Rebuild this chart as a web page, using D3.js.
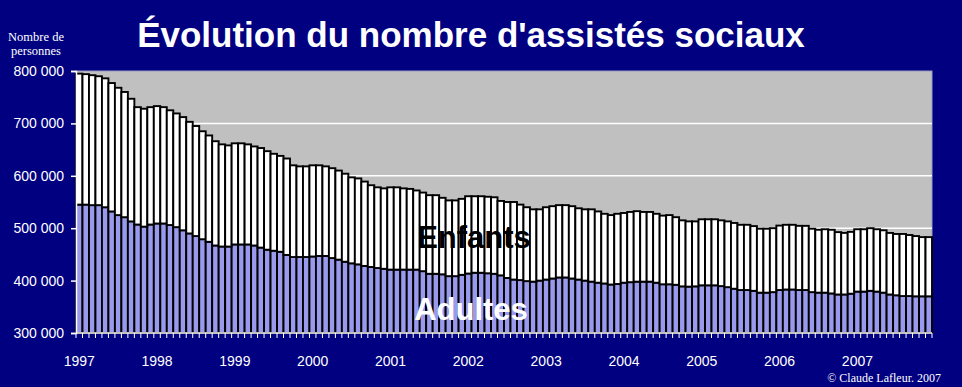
<!DOCTYPE html>
<html>
<head>
<meta charset="utf-8">
<script src="https://cdn.jsdelivr.net/npm/d3@7"></script>
<style>
  html, body { margin: 0; padding: 0; background: #000080; }
  #chart { width: 962px; height: 387px; }
</style>
</head>
<body>
<div id="chart"></div>
<script>
// years shown on the x axis, one bar per month
const years = ['1997', '1998', '1999', '2000', '2001', '2002', '2003', '2004', '2005', '2006', '2007'];
const months = years.flatMap(y => d3.range(1, 13).map(m => `${y}-${String(m).padStart(2, '0')}`));

// adults, in thousands of persons
const adultes = [
  545, 545, 544, 544, 540, 532, 525, 521, 513, 507, 503, 507,
  509, 509, 506, 502, 496, 490, 485, 479, 474, 467, 465, 465,
  469, 469, 469, 467, 463, 459, 457, 455, 449, 445, 445, 445,
  446, 447, 447, 443, 440, 436, 433, 431, 428, 426, 424, 422.5,
  421, 421, 421, 421, 421, 418, 413, 413, 412, 408.5, 408.5, 411,
  413.5, 415, 415, 414, 413, 410, 405, 402, 401, 399, 398, 400,
  402, 404, 406, 406, 404, 402, 400, 398, 396, 394.5, 392.5, 393.5,
  396, 397, 398, 398, 398, 396, 393, 393, 392, 389, 388.5, 389,
  391, 391, 391, 389.5, 387.5, 384.5, 382, 382, 380.5, 377, 377, 378,
  382, 383, 383, 382, 382, 378, 377, 377, 375.5, 373.5, 373.5, 375,
  379, 379, 380.5, 379, 377, 373.5, 372, 370.5, 370.5, 370, 370, 370
];

// children, in thousands of persons
const enfants = [
  250, 249, 248, 246, 246, 245, 243, 239, 234, 224, 225, 224,
  224, 222, 219, 217, 216, 213, 210, 206, 203, 199, 195, 193,
  193, 193, 191, 189, 190, 188, 185, 183, 184, 175, 173, 173,
  174, 173, 171, 171.5, 170, 168, 164, 164, 161, 156, 154, 153.5,
  157, 157, 155, 154, 151, 150, 150, 150, 146, 144.5, 144.5, 145,
  147.5, 146, 146, 146, 146, 142, 145, 148, 144, 141, 138, 136,
  138, 138, 138, 138, 138, 136, 136, 138, 136, 133, 132.5, 134,
  133, 134, 134.5, 133, 133, 131.5, 131, 132, 129, 126, 124.5, 124,
  126, 126, 126, 125.5, 125.5, 125.5, 124.5, 124.5, 123.5, 122, 122, 122,
  123, 123.5, 123.5, 122.5, 122.5, 121, 120, 121, 121.5, 119, 117.5, 118,
  119, 119, 119.5, 119, 119, 117.5, 117, 118.5, 116.5, 115, 113, 113
];

const yTicks = [300000, 400000, 500000, 600000, 700000, 800000];

const width = 962;
const height = 387;
const plot = { left: 76, right: 932, top: 71, bottom: 333 };

const svg = d3
  .select('#chart')
  .append('svg')
  .attr('width', width)
  .attr('height', height)
  .style('font-family', '"Liberation Sans", Arial, sans-serif');

svg.append('rect').attr('width', width).attr('height', height).attr('fill', '#000080');

const xScale = d3
  .scaleBand()
  .domain(months)
  .range([plot.left, plot.right])
  .padding(0);

const yScale = d3
  .scaleLinear()
  .domain([300000, 800000])
  .range([plot.bottom, plot.top]);

// plot area
svg
  .append('rect')
  .attr('x', plot.left)
  .attr('y', plot.top)
  .attr('width', plot.right - plot.left)
  .attr('height', plot.bottom - plot.top)
  .attr('fill', '#c0c0c0')
  .attr('stroke', '#9a9ac4')
  .attr('stroke-width', 1);

// grid lines
svg
  .append('g')
  .selectAll('line')
  .data(yTicks.filter(t => t > 300000 && t < 800000))
  .enter()
  .append('line')
  .attr('x1', plot.left)
  .attr('x2', plot.right)
  .attr('y1', d => yScale(d))
  .attr('y2', d => yScale(d))
  .attr('stroke', '#ffffff')
  .attr('stroke-width', 1.5);

const rows = months.map((m, i) => ({ mois: m, adultes: adultes[i] * 1000, enfants: enfants[i] * 1000 }));
const stack = d3.stack().keys(['adultes', 'enfants'])(rows);
const colors = { adultes: '#9999ee', enfants: '#ffffff' };

svg
  .append('g')
  .selectAll('g')
  .data(stack)
  .enter()
  .append('g')
  .attr('fill', d => colors[d.key])
  .selectAll('rect')
  .data(d => d)
  .enter()
  .append('rect')
  .attr('x', d => xScale(d.data.mois))
  .attr('y', d => yScale(d[1]))
  .attr('width', xScale.bandwidth())
  .attr('height', d => yScale(Math.max(d[0], 300000)) - yScale(d[1]))
  .attr('stroke', '#000000')
  .attr('stroke-width', 1.9);

// y axis
const fr = d3.formatLocale({ decimal: ',', thousands: ' ', grouping: [3], currency: ['', ' $'] });
const yAxis = d3.axisLeft(yScale).tickValues(yTicks).tickFormat(fr.format(',')).tickSize(5).tickPadding(7);
const gy = svg
  .append('g')
  .attr('transform', `translate(${plot.left}, 0)`)
  .call(yAxis);
gy.select('.domain').attr('stroke', '#ffffff').attr('stroke-width', 1.5);
gy.selectAll('.tick line').attr('stroke', '#ffffff').attr('stroke-width', 1.5);
gy.selectAll('.tick text')
  .attr('fill', '#ffffff')
  .style('font-size', '14px')
  .style('font-family', '"Liberation Sans", Arial, sans-serif');

// x axis: a tick at each month boundary, year under January
const gx = svg.append('g').attr('transform', `translate(0, ${plot.bottom})`);
gx.append('line')
  .attr('x1', plot.left)
  .attr('x2', plot.right)
  .attr('stroke', '#ffffff')
  .attr('stroke-width', 1.5);
gx.selectAll('line.tick')
  .data(months.concat(['fin']))
  .enter()
  .append('line')
  .attr('class', 'tick')
  .attr('x1', (d, i) => plot.left + i * xScale.bandwidth())
  .attr('x2', (d, i) => plot.left + i * xScale.bandwidth())
  .attr('y1', 0)
  .attr('y2', 5)
  .attr('stroke', '#ffffff')
  .attr('stroke-width', 1);
gx.selectAll('text')
  .data(years)
  .enter()
  .append('text')
  .attr('x', d => xScale(`${d}-01`) + xScale.bandwidth() / 2)
  .attr('y', 33)
  .attr('text-anchor', 'middle')
  .attr('fill', '#ffffff')
  .style('font-size', '14px')
  .text(d => d);

// titles and labels
svg
  .append('text')
  .attr('x', 471)
  .attr('y', 47)
  .attr('text-anchor', 'middle')
  .attr('fill', '#ffffff')
  .style('font-size', '35px')
  .style('font-weight', 'bold')
  .text("Évolution du nombre d'assistés sociaux");

const unit = svg
  .append('g')
  .attr('fill', '#ffffff')
  .style('font-family', '"Liberation Serif", "Times New Roman", serif')
  .style('font-size', '12.5px');
unit.append('text').attr('x', 36).attr('y', 41).attr('text-anchor', 'middle').text('Nombre de');
unit.append('text').attr('x', 36).attr('y', 55).attr('text-anchor', 'middle').text('personnes');

svg
  .append('text')
  .attr('x', 474)
  .attr('y', 248)
  .attr('text-anchor', 'middle')
  .attr('fill', '#000000')
  .style('font-size', '31px')
  .style('font-weight', 'bold')
  .text('Enfants');

svg
  .append('text')
  .attr('x', 471)
  .attr('y', 320)
  .attr('text-anchor', 'middle')
  .attr('fill', '#ffffff')
  .style('font-size', '31px')
  .style('font-weight', 'bold')
  .text('Adultes');

svg
  .append('text')
  .attr('x', 941)
  .attr('y', 382)
  .attr('text-anchor', 'end')
  .attr('fill', '#ffffff')
  .style('font-family', '"Liberation Serif", "Times New Roman", serif')
  .style('font-size', '12px')
  .text('© Claude Lafleur. 2007');
</script>
</body>
</html>
